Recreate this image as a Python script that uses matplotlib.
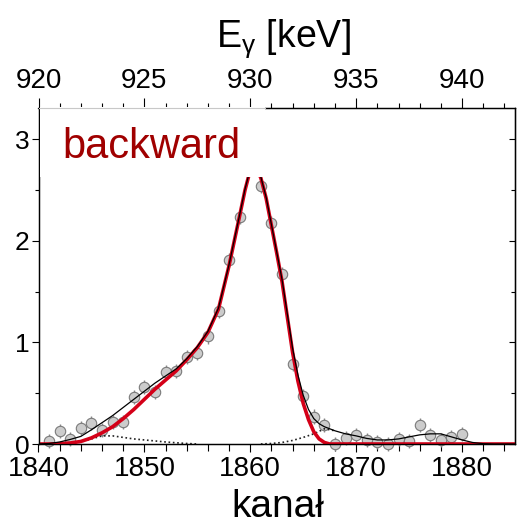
import matplotlib
matplotlib.use('Agg')
import matplotlib.pyplot as plt
from matplotlib.patches import Rectangle
from matplotlib.lines import Line2D
from matplotlib.ticker import MultipleLocator

plt.rcParams['font.family'] = ['Liberation Sans', 'DejaVu Sans']
plt.rcParams['mathtext.fontset'] = 'custom'
plt.rcParams['mathtext.rm'] = 'Liberation Sans'
plt.rcParams['mathtext.it'] = 'Liberation Sans:italic'

# ---- measured data points ----
channels = [1841, 1842, 1843, 1844, 1845, 1846, 1847, 1848, 1849, 1850,
            1851, 1852, 1853, 1854, 1855, 1856, 1857, 1858, 1859, 1860,
            1861, 1862, 1863, 1864, 1865, 1866, 1867, 1868, 1869, 1870,
            1871, 1872, 1873, 1874, 1875, 1876, 1877, 1878, 1879, 1880]
counts = [0.03, 0.13, 0.05, 0.16, 0.21, 0.14, 0.22, 0.22, 0.46, 0.56,
          0.51, 0.71, 0.72, 0.86, 0.90, 1.06, 1.31, 1.81, 2.24, 2.72,
          2.54, 2.18, 1.67, 0.79, 0.47, 0.27, 0.19, 0.00, 0.06, 0.09,
          0.04, 0.02, 0.00, 0.05, 0.03, 0.19, 0.09, 0.04, 0.07, 0.10]
errors = [0.07] * len(channels)

# ---- main peak fit (red) ----
peak_x = [1840, 1841, 1842, 1843, 1844, 1845, 1846, 1847, 1848, 1849, 1850,
          1851, 1852, 1853, 1854, 1855, 1856, 1857, 1858, 1859, 1859.5,
          1860, 1860.5, 1861, 1861.5, 1862, 1862.5, 1863, 1863.5, 1864,
          1864.5, 1865, 1865.5, 1866, 1866.5, 1867, 1867.5, 1870, 1885]
peak_y = [0.0, 0.0, 0.003, 0.01, 0.025, 0.06, 0.11, 0.17, 0.25, 0.34, 0.44,
          0.54, 0.63, 0.72, 0.83, 0.95, 1.10, 1.33, 1.76, 2.25, 2.50,
          2.70, 2.74, 2.62, 2.42, 2.15, 1.88, 1.60, 1.25, 0.90,
          0.62, 0.40, 0.24, 0.12, 0.05, 0.015, 0.0, 0.0, 0.0]

# ---- total fit (black) ----
total_x = [1840, 1841, 1842, 1843, 1844, 1845, 1846, 1847, 1848, 1849, 1850,
           1851, 1852, 1853, 1854, 1855, 1856, 1857, 1858, 1859, 1859.5,
           1860, 1860.5, 1861, 1861.5, 1862, 1862.5, 1863, 1863.5, 1864,
           1864.5, 1865, 1865.5, 1866, 1866.5, 1867, 1868, 1869, 1870,
           1871, 1872, 1873, 1874, 1875, 1876, 1877, 1878, 1879, 1880,
           1881, 1882, 1883, 1885]
total_y = [0.0, 0.005, 0.02, 0.045, 0.075, 0.14, 0.21, 0.28, 0.36, 0.44, 0.52,
           0.60, 0.67, 0.74, 0.84, 0.96, 1.11, 1.34, 1.77, 2.26, 2.51,
           2.71, 2.75, 2.63, 2.43, 2.16, 1.89, 1.62, 1.28, 0.94,
           0.68, 0.48, 0.34, 0.25, 0.20, 0.17, 0.13, 0.10, 0.08,
           0.055, 0.04, 0.04, 0.05, 0.07, 0.09, 0.10, 0.10, 0.07, 0.04,
           0.015, 0.003, 0.0, 0.0]

# ---- background components (dotted) ----
left_x = [1843, 1844, 1845, 1846, 1847, 1848, 1849, 1850, 1851, 1852, 1853, 1854, 1855]
left_y = [0.0, 0.02, 0.05, 0.08, 0.08, 0.065, 0.05, 0.04, 0.03, 0.02, 0.012, 0.005, 0.0]
right_x = [1861, 1862, 1863, 1864, 1865, 1866, 1867, 1868]
right_y = [0.0, 0.005, 0.015, 0.035, 0.065, 0.10, 0.15, 0.13]

bottom_ticks = [1840, 1850, 1860, 1870, 1880]
top_ticks = [920, 925, 930, 935, 940]
y_ticks = [0, 1, 2, 3]

W, H = 522, 526
fig = plt.figure(figsize=(W / 100, H / 100), dpi=100)
L, R, B, T = 38.5, 515, 444, 108
ax = fig.add_axes([L / W, (H - B) / H, (R - L) / W, (B - T) / H])

ax.errorbar(channels, counts, yerr=errors, fmt='o', ms=7.5,
            mfc='#cccccc', mec='#7a7a7a', mew=0.8, ecolor='#8a8a8a',
            elinewidth=1.0, capsize=0, zorder=2, clip_on=False)
ax.plot(left_x, left_y, color='#222222', ls=(0, (1, 1.6)), lw=1.2, zorder=3)
ax.plot(right_x, right_y, color='#222222', ls=(0, (1, 1.6)), lw=1.2, zorder=3)
ax.plot(peak_x, peak_y, color='#d40018', lw=2.6, zorder=3, solid_capstyle='butt')
ax.plot(total_x, total_y, color='black', lw=0.9, zorder=4)

ax.set_xlim(1840, 1885)
ax.set_ylim(0, 3.31)
ax.set_xticks(bottom_ticks)
ax.xaxis.set_minor_locator(MultipleLocator(2))
ax.set_yticks(y_ticks)
ax.yaxis.set_minor_locator(MultipleLocator(0.5))
ax.tick_params(axis='x', which='major', direction='out', length=6, width=0.8,
               labelsize=20, pad=3)
ax.tick_params(axis='x', which='minor', direction='out', length=5, width=0.8)
ax.tick_params(axis='y', which='major', direction='out', length=5, width=0.8,
               labelsize=19, pad=1.5)
ax.tick_params(axis='y', which='minor', direction='out', length=3, width=0.8)
for s in ax.spines.values():
    s.set_linewidth(0.9)

ax2 = ax.twiny()
ax2.set_xlim(920, 942.5)
ax2.set_xticks(top_ticks)
ax2.xaxis.set_minor_locator(MultipleLocator(1))
ax2.tick_params(axis='x', which='major', direction='out', length=7, width=0.8,
                labelsize=20, pad=3)
ax2.tick_params(axis='x', which='minor', direction='out', length=3.5, width=0.8)
for s in ax2.spines.values():
    s.set_linewidth(0.9)

ay = ax.secondary_yaxis('right')
ay.set_yticks(y_ticks)
ay.yaxis.set_minor_locator(MultipleLocator(0.5))
ay.tick_params(which='major', direction='in', length=4, width=0.8, labelright=False)
ay.tick_params(which='minor', direction='in', length=3, width=0.8)

# white label box over the upper-left corner
box = Rectangle((1840.15, 2.63), 21.25, 0.685, transform=ax.transData,
                facecolor='white', edgecolor='none', zorder=5)
fig.add_artist(box)
fig.add_artist(Line2D([1840, 1861.4], [3.31, 3.31], transform=ax.transData,
                      color='#c8c8c8', lw=0.8, zorder=6))
fig.text(62 / W, (H - 158) / H, 'backward', color='#a00000', fontsize=30,
         ha='left', va='baseline', zorder=7)

fig.text(278 / W, 9 / H, 'kanał', fontsize=28, ha='center', va='baseline')
fig.text(283 / W, (H - 47) / H, r'E$_{\mathregular{\gamma}}$ [keV]', fontsize=27,
         ha='center', va='baseline')

fig.savefig('out.png', dpi=100)
